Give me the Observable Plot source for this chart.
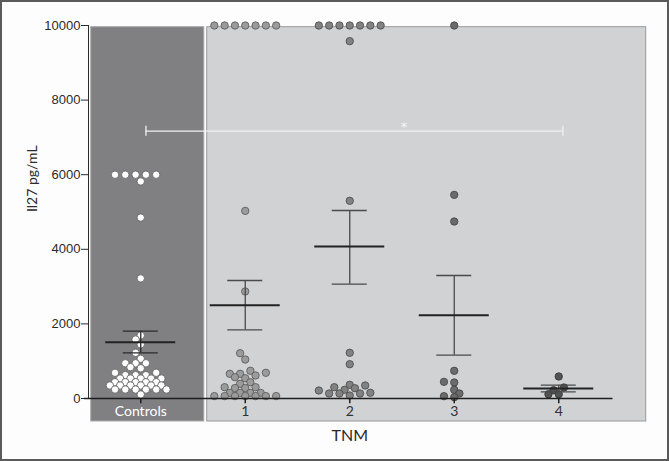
<!DOCTYPE html>
<html>
<head>
<meta charset="utf-8">
<script src="https://cdn.jsdelivr.net/npm/d3@7"></script>
<script src="https://cdn.jsdelivr.net/npm/@observablehq/plot@0.6"></script>
<style>
  html, body { margin: 0; padding: 0; background: #ffffff; }
  #chart svg { display: block; }
</style>
</head>
<body>
<div id="chart"></div>
<script>
// ---- data ----
const categories = ["Controls", "1", "2", "3", "4"];

const controls = [6000, 6000, 6000, 6000, 6000, 5820, 4850, 3220,
  1690, 1580, 1450, 1225, 1065, 945, 945, 945, 840, 810,
  690, 690, 625, 625, 625, 535, 535, 535, 535, 535,
  437, 437, 437, 437, 437, 349, 349, 349, 349, 349, 349,
  241, 241, 241, 241, 241, 241, 107];
const tnm1 = [10000, 10000, 10000, 10000, 10000, 10000, 10000, 5030, 2870,
  1215, 1045, 743, 689, 662, 662, 617, 571, 544,
  437, 394, 303, 303, 280, 280, 150, 150, 150, 150,
  65, 65, 65, 65, 65, 65, 65];
const tnm2 = [10000, 10000, 10000, 10000, 10000, 10000, 10000, 9580, 5300,
  1225, 920, 367, 349, 303, 276, 233, 214, 153, 134, 134, 134, 80];
const tnm3 = [10000, 5460, 4745, 742, 447, 429, 233, 134, 62, 35];
const tnm4 = [590, 295, 223, 115, 115];

const means = [1510, 2500, 4075, 2233, 268];
const semLow = [1225, 1842, 3064, 1161, 180];
const semHigh = [1804, 3164, 5040, 3298, 357];

const yTicks = [0, 2000, 4000, 6000, 8000, 10000];
const sigValue = 7166;          // significance bracket level
const sigFrom = 0, sigTo = 4;   // groups joined by the bracket
const sigLabel = "*";

// ---- layout ----
const W = 665, H = 457;
const mL = 86, mR = 56.5, mT = 23, mB = 61;
const pxPerBand = (W - mL - mR) / categories.length;
const pxPerUnit = (H - mT - mB) / 10000;

const groups = [controls, tnm1, tnm2, tnm3, tnm4];
const fills = ["#ffffff", "#9b9b9b", "#828282", "#6b6b6b", "#525252"];
const strokes = ["#5a5a5a", "#555555", "#474747", "#404040", "#333333"];

// Prism-like scatter: half-slot grid, centre-out, ascending order
function swarm(values) {
  const d = 9.8, k = 2.7, s = 5.15;
  const placed = [];
  const out = new Array(values.length);
  const cands = [0];
  for (let j = 1; j < 40; j++) cands.push(-j * s, j * s);
  const order = d3.range(values.length).sort((a, b) => values[a] - values[b]);
  for (const i of order) {
    const y = values[i] * pxPerUnit;
    for (const c of cands) {
      const ok = placed.every(p => {
        const dx = c - p.x, dy = y - p.y;
        if (Math.abs(dx) < 5 && Math.abs(dy) < 6.8) return false;
        return dx * dx + k * k * dy * dy >= d * d - 1e-6;
      });
      if (ok) { out[i] = c; placed.push({x: c, y}); break; }
    }
  }
  return out;
}

const points = [];
groups.forEach((vals, gi) => {
  const offs = swarm(vals);
  vals.forEach((v, j) => points.push({g: gi, value: v, x: gi + offs[j] / pxPerBand}));
});

const stats = categories.map((c, i) => ({i, mean: means[i], lo: semLow[i], hi: semHigh[i]}));
const capHalf = 17.5 / pxPerBand, meanHalf = 35 / pxPerBand;

// panel extents (decoration)
const panels = [
  {x1: -0.474, x2: 0.608, fill: "#807f82", stroke: "#a9a9a9"},
  {x1: 0.636, x2: 4.837, fill: "#d1d2d4", stroke: "#9a9a9a"}
];
const panelBottom = -23 / pxPerUnit;
const panelTop = 10000 - 1.7 / pxPerUnit;

const chart = Plot.plot({
  width: W, height: H,
  marginLeft: mL, marginRight: mR, marginTop: mT, marginBottom: mB,
  style: "border:2px solid #5a5a5a;background:#fdfdfd;font-family:'Liberation Sans',Arial,sans-serif;font-size:13px;color:#2a2a2a;",
  x: {domain: [-0.5, 4.5], axis: null},
  y: {domain: [0, 10000], ticks: yTicks, tickSize: 7, tickPadding: 1, line: true, label: null,
      tickFormat: d => String(d)},
  marks: [
    Plot.rect(panels, {x1: "x1", x2: "x2", y1: panelBottom, y2: panelTop, fill: "fill", stroke: "stroke", strokeWidth: 1}),
    // significance bracket
    Plot.ruleY([sigValue], {x1: sigFrom + 0.05, x2: sigTo + 0.04, stroke: "#f0f0f0", strokeWidth: 1.3}),
    Plot.ruleX([sigFrom + 0.05, sigTo + 0.04], {x: d => d, y1: sigValue - 135, y2: sigValue + 135, stroke: "#f0f0f0", strokeWidth: 1.3}),
    Plot.text([sigLabel], {x: 2.52, y: sigValue, dy: -4, fill: "#f6f6f6", fontSize: 13, fontFamily: "DejaVu Sans"}),
    // dots
    Plot.dot(points, {x: "x", y: "value", r: 3.7, fill: d => fills[d.g], stroke: d => strokes[d.g], strokeWidth: 0.8}),
    // SEM
    Plot.ruleX(stats, {x: "i", y1: "lo", y2: "hi", stroke: d => d.i === 0 ? "#2a2a2a" : "#4a4a4a", strokeWidth: 1.3}),
    Plot.ruleY(stats, {y: "lo", x1: d => d.i - capHalf, x2: d => d.i + capHalf, stroke: d => d.i === 0 ? "#2a2a2a" : "#4a4a4a", strokeWidth: 1.3}),
    Plot.ruleY(stats, {y: "hi", x1: d => d.i - capHalf, x2: d => d.i + capHalf, stroke: d => d.i === 0 ? "#2a2a2a" : "#4a4a4a", strokeWidth: 1.3}),
    Plot.ruleY(stats, {y: "mean", x1: d => d.i - meanHalf, x2: d => d.i + meanHalf, stroke: "#222", strokeWidth: 2}),
    // zero line and category ticks
    Plot.ruleY([0], {stroke: "#1e1e1e", strokeWidth: 1.6, insetLeft: -4, insetRight: -2}),
    Plot.ruleX(d3.range(categories.length), {x: d => d, y1: 0, y2: -140, stroke: "#1e1e1e", strokeWidth: 1.5}),
    // category labels
    Plot.text(categories, {x: (d, i) => i, y: 0, dy: 13.5, fill: (d, i) => i === 0 ? "#ffffff" : "#333333",
      fontSize: 14, fontFamily: "Lato"}),
    // axis titles
    Plot.text(["TNM"], {frameAnchor: "bottom", dy: 42, fontSize: 16, fontFamily: "Lato", fill: "#2a2a2a"}),
    Plot.text(["Il27 pg/mL"], {frameAnchor: "left", rotate: -90, dx: -56, fontSize: 14, fontFamily: "Lato", fill: "#2a2a2a"})
  ]
});
document.getElementById("chart").appendChild(chart);
</script>
</body>
</html>
